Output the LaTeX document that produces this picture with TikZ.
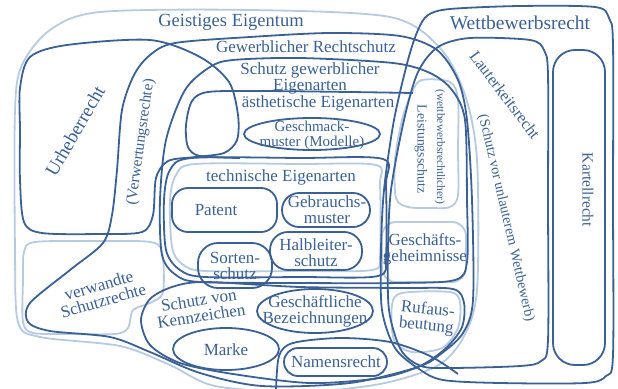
\documentclass[tikz,border=0pt]{standalone}
\usepackage{fontspec}
\setmainfont{Liberation Serif}
\usetikzlibrary{shapes.geometric}
\definecolor{ink}{RGB}{58,96,150}
\definecolor{pale}{RGB}{182,202,226}
\begin{document}
\begin{tikzpicture}[x=1pt,y=-1pt,
  dk/.style={draw=ink,line width=1.8pt},
  lt/.style={draw=pale,line width=1.8pt},
  lbl/.style={text=ink,align=center,inner sep=0pt,font=\fontsize{17}{16}\selectfont},
  box/.style={dk,inner sep=0pt},
]
\useasboundingbox (0,0) rectangle (618,388);

% ---------- light outlines ----------
% Geistiges Eigentum
\draw[lt] plot[smooth cycle] coordinates {(100,12) (250,10) (390,17) (440,48) (465,95) (477,160) (477,290) (463,338) (437,366) (380,384) (300,392) (215,386) (170,365) (120,346) (40,337) (18,322) (15,250) (15,110) (22,65) (50,30)};
% verwandte Schutzrechte
\draw[lt] plot[smooth cycle] coordinates {(35,242) (100,241) (150,242) (162,252) (163,292) (150,303) (133,310) (128,328) (115,334) (70,334) (33,333) (23,322) (23,280) (24,252)};
% Leistungsschutz
\draw[lt] plot[smooth cycle] coordinates {(422,80) (450,82) (458,100) (458,150) (458,195) (450,207) (430,208) (408,207) (396,198) (395,160) (402,120) (412,92)};
% Geschaeftsgeheimnisse
\node[lt,rounded corners=14pt,minimum width=84pt,minimum height=60pt,inner sep=0pt] (gehbox) at (424,252) {};
% Rufausbeutung
\draw[lt] plot[smooth cycle] coordinates {(402,293) (450,292) (460,302) (458,328) (442,348) (412,352) (394,340) (392,305)};
% technische (inner light line)
\draw[lt] plot[smooth cycle] coordinates {(195,164) (300,164) (376,165) (380,185) (380,255) (372,270) (300,271) (205,271) (182,264) (172,247) (170,200) (176,175)};

% ---------- dark outlines ----------
% Urheberrecht
\draw[dk] plot[smooth cycle] coordinates {(20,88) (30,57) (67,45) (150,40) (200,57) (229,82) (238,115) (237,140) (224,153) (195,157) (168,161) (156,178) (153,215) (142,232) (100,234) (42,233) (24,222) (20,180) (20,130)};
% Gewerblicher Rechtschutz
\draw[dk] plot[smooth cycle] coordinates {(175,43) (250,37) (330,33) (400,36) (437,50) (458,80) (467,120) (472,200) (473,300) (463,333) (442,353) (418,367) (350,383) (262,386) (200,373) (150,352) (110,337) (50,331) (28,322) (30,303) (70,270) (103,243) (112,215) (117,170) (122,110) (134,75) (150,55)};
% Schutz gewerblicher Eigenarten
\draw[dk] plot[smooth cycle] coordinates {(233,60) (300,58) (393,63) (430,73) (452,90) (465,120) (467,200) (467,262) (455,280) (400,283) (300,283) (200,282) (176,275) (162,255) (160,200) (166,140) (185,90) (210,67)};
% aesthetische Eigenarten
\draw[dk] plot[smooth] coordinates {(413,93) (350,92) (260,91) (208,92) (192,101) (186,125) (188,147) (200,156) (240,158)};
% technische Eigenarten
\draw[dk] plot[smooth cycle] coordinates {(192,158) (300,158) (383,159) (386,185) (386,255) (378,276) (300,277) (205,277) (180,270) (166,250) (164,200) (170,170)};
% Schutz von Kennzeichen
\draw[dk] plot[smooth cycle] coordinates {(141,320) (150,299) (172,287) (205,282) (300,287) (400,288) (453,289) (464,303) (462,327) (446,348) (420,366) (380,378) (310,383) (233,374) (180,363) (150,345)};
% Namensrecht outer curve
\draw[dk] plot[smooth] coordinates {(276,392) (279,356) (293,343) (340,338) (390,342) (430,356) (458,374)};
% Wettbewerbsrecht
\draw[dk] plot[smooth cycle] coordinates {(450,9) (520,6) (595,7) (609,18) (613,45) (613,200) (613,355) (606,376) (585,383) (500,383) (443,380) (419,369) (395,348) (382,310) (381,250) (384,190) (394,120) (408,60) (418,30) (428,15)};
% Lauterkeitsrecht
\draw[dk] plot[smooth cycle] coordinates {(470,38) (530,40) (544,50) (548,75) (548,200) (548,340) (541,361) (520,366) (450,368) (421,366) (401,350) (389,310) (388,250) (391,190) (404,120) (418,72) (438,47)};
% Kartellrecht
\node[box,rounded corners=22pt,minimum width=52pt,minimum height=315pt] (kartell) at (579,207.5) {};

% inner boxes
\node[box,ellipse,minimum width=136pt,minimum height=32pt] (geschm) at (312,134) {};
\node[box,rounded corners=16pt,minimum width=105pt,minimum height=44pt] (patent) at (224.5,210) {};
\node[box,rounded corners=17pt,minimum width=88pt,minimum height=34pt] (gebrauch) at (326,210) {};
\node[box,rounded corners=18pt,minimum width=92pt,minimum height=38pt] (halbl) at (316,251) {};
\node[box,rounded corners=20pt,minimum width=74pt,minimum height=45pt] (sorten) at (235,265.5) {};
\node[box,ellipse,minimum width=116pt,minimum height=44pt] (geschbez) at (315,311) {};
\node[box,ellipse,minimum width=106pt,minimum height=42pt] (marke) at (226,349) {};
\node[box,rounded corners=14pt,minimum width=103pt,minimum height=28pt] (namen) at (335.5,362) {};

% ---------- labels ----------
\node[lbl,font=\fontsize{18.5}{20}\selectfont] (tGeist) at (231,22) {Geistiges Eigentum};
\node[lbl,font=\fontsize{19.5}{20}\selectfont] (tWett) at (520,23) {Wettbewerbsrecht};
\node[lbl] (tGew) at (306,47) {Gewerblicher Rechtschutz};
\node[lbl] (tSgE) at (310,78) {Schutz gewerblicher\\Eigenarten};
\node[lbl] (tAes) at (318,103) {ästhetische Eigenarten};
\node[lbl,font=\fontsize{15}{15}\selectfont] (tGeschm) at (312,135) {Geschmack-\\muster (Modelle)};
\node[lbl] (tTech) at (281,177) {technische Eigenarten};
\node[lbl] (tPatent) at (216,210) {Patent};
\node[lbl] (tGebr) at (327,210) {Gebrauchs-\\muster};
\node[lbl] (tHalb) at (316,253) {Halbleiter-\\schutz};
\node[lbl] (tSort) at (235,266) {Sorten-\\schutz};
\node[lbl,rotate=9] (tKenn) at (200,308) {Schutz von\\Kennzeichen};
\node[lbl] (tGbez) at (315,311) {Geschäftliche\\Bezeichnungen};
\node[lbl] (tMarke) at (226,350) {Marke};
\node[lbl] (tNamen) at (336,362) {Namensrecht};
\node[lbl,rotate=60,font=\fontsize{19}{20}\selectfont] (tUrh) at (75,131) {Urheberrecht};
\node[lbl,rotate=82,font=\fontsize{15.5}{16}\selectfont] (tVerw) at (141,142) {(Verwertungsrechte)};
\node[lbl,rotate=16] (tVerw2) at (101,293) {verwandte\\Schutzrechte};
\node[lbl,rotate=-90,font=\fontsize{11.5}{12}\selectfont] (tWbr) at (440,147) {(wettbewerbsrechtlicher)};
\node[lbl,rotate=-90,font=\fontsize{13.7}{14}\selectfont] (tLeist) at (421,149) {Leistungsschutz};
\node[lbl] (tGeh) at (425,249) {Geschäfts-\\geheimnisse};
\node[lbl,rotate=-6] (tRuf) at (427,318) {Rufaus-\\beutung};
\node[lbl,rotate=-53,font=\fontsize{16.2}{16}\selectfont] (tLaut) at (505,95) {Lauterkeitsrecht};
\node[lbl,rotate=-77,font=\fontsize{14.3}{15}\selectfont] (tSchutzUW) at (506,218) {(Schutz vor unlauterem Wettbewerb)};
\node[lbl,rotate=-90,font=\fontsize{15.5}{16}\selectfont] (tKart) at (588,190) {Kartellrecht};
\end{tikzpicture}
\end{document}
